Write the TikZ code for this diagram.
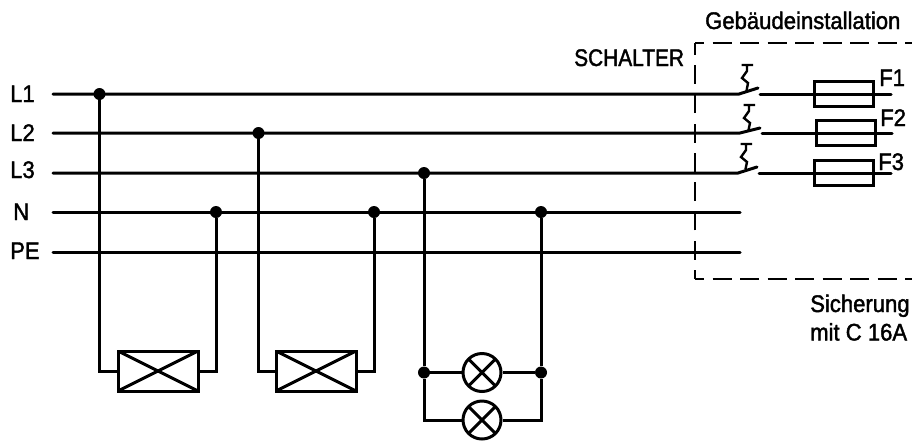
\documentclass[tikz,border=0pt]{standalone}
\usepackage{fontspec}
\setmainfont[FakeStretch=0.92,FakeBold=1.6]{Liberation Sans}
\newfontface\capsface[FakeStretch=0.87,FakeBold=1.6]{Liberation Sans}
\tikzset{
  wire/.style={line width=3pt,line cap=round,black},
  thin wire/.style={line width=3pt,black},
  junction/.style={circle,fill=black,inner sep=0pt,minimum size=12pt},
  lbl/.style={font=\fontsize{24}{28}\selectfont,inner sep=0pt,anchor=base west,text=black},
  fuse/.style={rectangle,draw=black,line width=3pt,inner sep=0pt,minimum width=59pt,minimum height=25pt},
  load/.style={rectangle,draw=black,line width=3pt,inner sep=0pt,minimum width=80pt,minimum height=40pt,
    path picture={\draw[line width=3pt] (path picture bounding box.north west) -- (path picture bounding box.south east)
      (path picture bounding box.north east) -- (path picture bounding box.south west);}},
  lamp/.style={circle,draw=black,line width=3pt,inner sep=0pt,minimum size=38pt,
    path picture={\draw[line width=3pt] (path picture bounding box.north west) -- (path picture bounding box.south east)
      (path picture bounding box.north east) -- (path picture bounding box.south west);}},
  spring/.style={line width=2.4pt,black},
  cabinet/.style={line width=2.1pt,black},
  cabinet h/.style={cabinet,dash pattern=on 19pt off 8.5pt,dash phase=10pt},
  cabinet v/.style={cabinet,dash pattern=on 19pt off 10.3pt,dash phase=10pt}
}
\begin{document}
\begin{tikzpicture}[x=1pt,y=-1pt]
\useasboundingbox (0,0) rectangle (912,440);
% labels
\node[lbl] (tL1) at (10,102) {L1};
\node[lbl] (tL2) at (10,141) {L2};
\node[lbl] (tL3) at (10,178) {L3};
\node[lbl] (tN) at (13,220) {N};
\node[lbl] (tPE) at (10,259) {PE};
\node[lbl] (tS) at (574,66) {\capsface SCHALTER};
\node[lbl] (tG) at (705,29) {Gebäudeinstallation};
\node[lbl] (tF1) at (879,86) {F1};
\node[lbl] (tF2) at (880,126) {F2};
\node[lbl] (tF3) at (878,170) {F3};
\node[lbl] (tSi) at (810,312) {Sicherung};
\node[lbl] (tMit) at (810,340.5) {mit C 16A};
% bus ends
\coordinate (L1a) at (53,94);
\coordinate (L2a) at (53,133);
\coordinate (L3a) at (53,173);
\coordinate (Na) at (53,212);
\coordinate (PEa) at (53,252);
\coordinate (Nb) at (740,212);
\coordinate (PEb) at (740,252);
% switches
\coordinate (S1a) at (739,94); \coordinate (S1b) at (758,88);
\coordinate (S2a) at (740,133); \coordinate (S2b) at (760,128);
\coordinate (S3a) at (738,173); \coordinate (S3b) at (757,167);
\coordinate (R1) at (760,94); \coordinate (E1) at (891,94);
\coordinate (R2) at (762,133); \coordinate (E2) at (892,133);
\coordinate (R3) at (759,173); \coordinate (E3) at (891,173);
% junctions
\node[junction] (j1) at (99.5,94) {};
\node[junction] (j2) at (216,212) {};
\node[junction] (j3) at (258.5,133) {};
\node[junction] (j4) at (374,212) {};
\node[junction] (j5) at (424,173) {};
\node[junction] (j6) at (541,212) {};
\node[junction] (j7) at (424,372.5) {};
\node[junction] (j8) at (541,372.5) {};
% buses
\draw[wire] (L1a) -- (S1a) -- (S1b);
\draw[wire] (L2a) -- (S2a) -- (S2b);
\draw[wire] (L3a) -- (S3a) -- (S3b);
\draw[wire] (Na) -- (Nb);
\draw[wire] (PEa) -- (PEb);
\draw[wire] (R1) -- (E1);
\draw[wire] (R2) -- (E2);
\draw[wire] (R3) -- (E3);
% fuses
\node[fuse] (f1) at (843.5,94) {};
\node[fuse] (f2) at (845.5,133) {};
\node[fuse] (f3) at (843.5,173) {};
% loads
\node[load] (b1) at (158,371) {};
\node[load] (b2) at (316,371) {};
\node[lamp] (l1) at (482,372.5) {};
\node[lamp] (l2) at (482,420) {};
% load wiring
\draw[thin wire] (j1) |- (b1.west);
\draw[thin wire] (j2) |- (b1.east);
\draw[thin wire] (j3) |- (b2.west);
\draw[thin wire] (j4) |- (b2.east);
\draw[thin wire] (j5) -- (j7);
\draw[thin wire] (j6) -- (j8);
\draw[thin wire] (j7) -- (l1.west);
\draw[thin wire] (j8) -- (l1.east);
\draw[thin wire] (j7) |- (l2.west);
\draw[thin wire] (j8) |- (l2.east);
% spring actuators
\draw[spring] (741.5,65) -- (753,65) (747,65) -- (747,71) -- (742,78) -- (748,83) -- (746.5,91);
\draw[spring] (743.5,105) -- (755,105) (749,105) -- (749,111) -- (744,118) -- (750,123) -- (748.5,130);
\draw[spring] (740.5,144) -- (752,144) (746,144) -- (746,150) -- (741,157) -- (747,162) -- (745.5,169);
% cabinet
\coordinate (cTL) at (695,43);
\coordinate (cBL) at (695,279);
\coordinate (cTR) at (912,43);
\coordinate (cBR) at (912,279);
\draw[cabinet h] (cTL) -- (cTR);
\draw[cabinet h] (cBL) -- (cBR);
\draw[cabinet v] (cBL) -- (cTL);
\end{tikzpicture}
\end{document}
